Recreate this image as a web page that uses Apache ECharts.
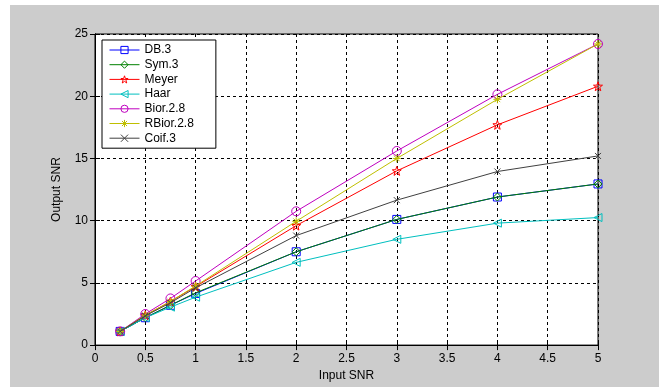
<!DOCTYPE html>
<html>
<head>
<meta charset="utf-8">
<script src="https://cdn.jsdelivr.net/npm/echarts@6/dist/echarts.min.js"></script>
<style>
  html, body { margin: 0; padding: 0; background: #fff; }
  #main { width: 663px; height: 387px; }
</style>
</head>
<body>
<div id="main"></div>
<script>
    // input SNR values (x)
    var inputSNR = [0.25, 0.5, 0.75, 1, 2, 3, 4, 5];
    // output SNR per wavelet
    var db3     = [1.1, 2.2, 3.2, 4.15, 7.5, 10.1, 11.9, 12.95];
    var sym3    = [1.1, 2.2, 3.2, 4.2, 7.5, 10.1, 11.9, 12.95];
    var meyer   = [1.1, 2.4, 3.5, 4.7, 9.6, 14.0, 17.7, 20.8];
    var haar    = [1.1, 2.2, 3.05, 3.85, 6.65, 8.5, 9.8, 10.25];
    var bior28  = [1.1, 2.5, 3.75, 5.15, 10.75, 15.6, 20.15, 24.2];
    var rbior28 = [1.1, 2.4, 3.5, 4.75, 9.95, 15.0, 19.75, 24.2];
    var coif3   = [1.1, 2.35, 3.4, 4.6, 8.8, 11.65, 13.95, 15.2];
    var names   = ['DB.3', 'Sym.3', 'Meyer', 'Haar', 'Bior.2.8', 'RBior.2.8', 'Coif.3'];
    var xTicks  = [0, 0.5, 1, 1.5, 2, 2.5, 3, 3.5, 4, 4.5, 5];
    var yTicks  = [0, 5, 10, 15, 20, 25];

    var font = 'Liberation Sans, Arial, sans-serif';
    var starPath = 'path://M0,-10 L2.35,-3.24 L9.51,-3.09 L3.8,1.24 L5.88,8.09 L0,4 L-5.88,8.09 L-3.8,1.24 L-9.51,-3.09 L-2.35,-3.24 Z';
    var asterPath = 'path://M0,-10 L0,10 M-10,0 L10,0 M-7,-7 L7,7 M-7,7 L7,-7';
    var crossPath = 'path://M-7,-7 L7,7 M-7,7 L7,-7';

    var styles = [
        {color: '#0000ff', symbol: 'rect', size: 8},
        {color: '#008000', symbol: 'diamond', size: 8},
        {color: '#ff0000', symbol: starPath, size: 9},
        {color: '#00bfbf', symbol: 'triangle', size: 8, rotate: 90},
        {color: '#bf00bf', symbol: 'circle', size: 9},
        {color: '#bfbf00', symbol: asterPath, size: 8},
        {color: '#404040', symbol: crossPath, size: 6}
    ];
    var values = [db3, sym3, meyer, haar, bior28, rbior28, coif3];
    var hollow = 'rgba(255,255,255,0)';

    var series = [];
    var legendData = [];
    for (var i = 0; i < values.length; i++) {
        var pts = [];
        for (var j = 0; j < inputSNR.length; j++) {
            pts.push([inputSNR[j], values[i][j]]);
        }
        var s = styles[i];
        series.push({
            name: names[i],
            type: 'line',
            data: pts,
            color: s.color,
            symbol: s.symbol,
            symbolSize: s.size,
            symbolRotate: s.rotate || 0,
            showAllSymbol: true,
            lineStyle: {color: s.color, width: 1},
            itemStyle: {color: hollow, borderColor: s.color, borderWidth: 1},
            emphasis: {disabled: true},
            z: 3 + i
        });
        legendData.push({
            name: names[i],
            itemStyle: {color: hollow, borderColor: s.color, borderWidth: 1},
            lineStyle: {color: s.color, width: 1}
        });
    }

    var myChart = echarts.init(document.getElementById('main'));
    var tickStyle = {show: true, inside: true, length: 5, lineStyle: {color: '#000'}};
    var labelStyle = {color: '#000', fontFamily: font, fontSize: 12};
    myChart.setOption({
        animation: false,
        backgroundColor: '#fff',
        graphic: [{
            type: 'rect',
            shape: {x: 10, y: 5, width: 649, height: 382},
            style: {fill: '#cccccc'},
            z: -10, silent: true
        }],
        grid: {
            left: 95, top: 34, width: 503, height: 315,
            show: true, backgroundColor: '#fff', borderColor: '#000', borderWidth: 1
        },
        legend: {
            orient: 'vertical',
            left: 102, top: 40,
            data: legendData,
            itemWidth: 30, itemHeight: 9, itemGap: 2.7,
            padding: [4, 22, 4, 7],
            backgroundColor: '#fff',
            borderColor: '#000', borderWidth: 1, borderRadius: 0,
            textStyle: {color: '#000', fontFamily: font, fontSize: 12, lineHeight: 12},
            selectedMode: false
        },
        xAxis: [{
            type: 'value', min: xTicks[0], max: xTicks[xTicks.length - 1], interval: xTicks[1] - xTicks[0],
            name: 'Input SNR', nameLocation: 'middle', nameGap: 24,
            nameTextStyle: labelStyle,
            axisLine: {onZero: false, lineStyle: {color: '#000'}},
            axisTick: tickStyle,
            axisLabel: {color: '#000', fontFamily: font, fontSize: 12, margin: 8},
            splitLine: {show: true, lineStyle: {color: '#000', type: [3, 3], width: 1}}
        }, {
            type: 'value', position: 'top', min: xTicks[0], max: xTicks[xTicks.length - 1], interval: xTicks[1] - xTicks[0],
            axisLine: {lineStyle: {color: '#000'}},
            axisTick: tickStyle, axisLabel: {show: false}, splitLine: {show: false}
        }],
        yAxis: [{
            type: 'value', min: yTicks[0], max: yTicks[yTicks.length - 1], interval: yTicks[1] - yTicks[0],
            name: 'Output SNR', nameLocation: 'middle', nameGap: 32,
            nameTextStyle: labelStyle,
            axisLine: {show: true, onZero: false, lineStyle: {color: '#000'}},
            axisTick: tickStyle,
            axisLabel: {color: '#000', fontFamily: font, fontSize: 12, margin: 7},
            splitLine: {show: true, lineStyle: {color: '#000', type: [3, 3], width: 1}}
        }, {
            type: 'value', position: 'right', min: yTicks[0], max: yTicks[yTicks.length - 1], interval: yTicks[1] - yTicks[0],
            axisLine: {show: true, lineStyle: {color: '#000'}},
            axisTick: tickStyle, axisLabel: {show: false}, splitLine: {show: false}
        }],
        series: series
    });
</script>
</body>
</html>
